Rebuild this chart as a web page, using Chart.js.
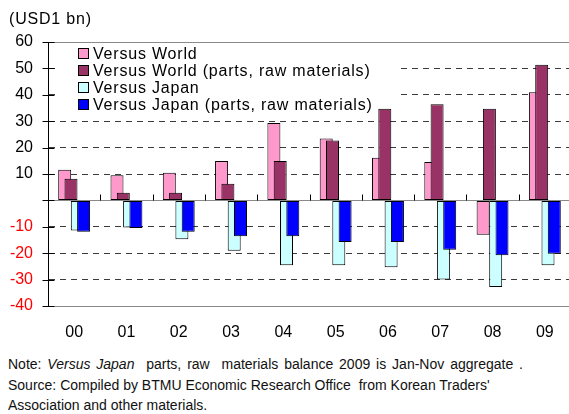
<!DOCTYPE html>
<html>
<head>
<meta charset="utf-8">
<script src="https://cdn.jsdelivr.net/npm/chart.js@4"></script>
<style>
    body { margin: 0; background: #fff; font-family: Arial, "Liberation Sans", sans-serif; }
    #wrap { position: relative; width: 569px; height: 414px; overflow: hidden; }
    #chart-box { position: absolute; left: 0; top: 0; width: 571px; height: 346px; }
    #unit { position: absolute; left: 9px; top: 10px; font-size: 16px; letter-spacing: 0.8px; color: #000; }
    #legend { position: absolute; left: 55px; top: 43px; width: 346px; height: 65px; background: #fff; }
    .legend-row { position: absolute; left: 23px; height: 17px; font-size: 16px; letter-spacing: 0.8px; line-height: 17px; white-space: nowrap; }
    .legend-row span.box { display: inline-block; width: 9px; height: 9px; border: 1px solid #000; margin-right: 4px; vertical-align: 0px; }
    #note { position: absolute; left: 8px; top: 354px; font-size: 14px; line-height: 20.5px; color: #111; white-space: nowrap; }
    #note .wide { word-spacing: 2px; }
</style>
</head>
<body>
<div id="wrap">
    <div id="chart-box"><canvas id="myChart"></canvas></div>
    <div id="unit">(USD1 bn)</div>
    <div id="legend"></div>
    <div id="note">
        <span class="wide">Note: <i>Versus Japan</i>&nbsp; parts, raw&nbsp; materials balance 2009 is Jan-Nov aggregate .</span><br>
        Source: Compiled by BTMU Economic Research Office&nbsp; from Korean Traders'<br>
        Association and other materials.
    </div>
</div>
<script>
const years = ['00', '01', '02', '03', '04', '05', '06', '07', '08', '09'];
const seriesNames = [
    'Versus World',
    'Versus World (parts, raw materials)',
    'Versus Japan',
    'Versus Japan (parts, raw materials)'
];
const versusWorld = [11.6, 9.5, 10.5, 14.9, 29.3, 23.4, 16.2, 14.5, -13.0, 41.0];
const versusWorldParts = [8.2, 2.9, 2.9, 6.3, 14.9, 22.7, 34.7, 36.4, 34.7, 51.4];
const versusJapan = [-11.4, -10.3, -14.7, -19.1, -24.6, -24.6, -25.3, -30.0, -32.8, -24.6];
const versusJapanParts = [-11.9, -10.5, -11.9, -13.6, -13.6, -15.8, -15.8, -18.7, -20.8, -20.2];
const yTicks = [60, 50, 40, 30, 20, 10, 0, -10, -20, -30, -40];

const seriesColors = ['#FF99CC', '#993366', '#CCFFFF', '#0000FF'];

// draw datasets first-to-last so each later bar sits on top of the one before it
const drawInOrder = {
    id: 'drawInOrder',
    beforeDatasetsDraw(chart) {
        for (let i = 0; i < chart.data.datasets.length; i++) {
            chart.getDatasetMeta(i).controller.draw();
        }
        return false;
    }
};

// tick marks crossing the value axis, and small marks on the zero line between years
const axisMarks = {
    id: 'axisMarks',
    afterDraw(chart) {
        const ctx = chart.ctx;
        const x = chart.scales.x;
        const y = chart.scales.y;
        const axisX = Math.round(chart.chartArea.left) + 0.5;
        ctx.save();
        ctx.strokeStyle = '#000';
        ctx.lineWidth = 1;
        ctx.beginPath();
        for (const v of yTicks) {
            const py = Math.round(y.getPixelForValue(v)) + 0.5;
            ctx.moveTo(axisX - 6, py);
            ctx.lineTo(axisX + 6, py);
        }
        const zero = Math.round(y.getPixelForValue(0)) + 0.5;
        for (let i = 0; i < years.length; i++) {
            const px = Math.round(x.getPixelForValue(i) + (x.getPixelForValue(1) - x.getPixelForValue(0)) / 2) + 0.5;
            ctx.moveTo(px, zero);
            ctx.lineTo(px, zero - 6);
        }
        ctx.stroke();
        ctx.restore();
    }
};

function isFrame(value) {
    return value === 60 || value === -40 || value === 0;
}

const myChart = new Chart(document.getElementById('myChart'), {
    type: 'bar',
    data: {
        labels: years,
        datasets: [versusWorld, versusWorldParts, versusJapan, versusJapanParts].map((values, i) => ({
            label: seriesNames[i],
            data: values,
            backgroundColor: seriesColors[i],
            borderColor: '#000',
            borderWidth: 1,
            borderSkipped: false
        }))
    },
    options: {
        responsive: true,
        maintainAspectRatio: false,
        animation: false,
        categoryPercentage: 0.482,
        barPercentage: 2.06,
        layout: { padding: { top: 42, left: 0, right: 0, bottom: 0 } },
        plugins: {
            legend: { display: false },
            tooltip: { enabled: false }
        },
        scales: {
            x: {
                grid: { display: false },
                border: { display: false },
                ticks: {
                    color: '#000',
                    padding: 9,
                    font: { family: 'Arial', size: 16 }
                },
                afterFit: (scale) => { scale.height = 40; }
            },
            y: {
                min: -40,
                max: 60,
                afterBuildTicks: (scale) => { scale.ticks = yTicks.map(v => ({ value: v })); },
                afterFit: (scale) => { scale.width = 48; },
                ticks: {
                    padding: 15,
                    font: { family: 'Arial', size: 16 },
                    color: (ctx) => ctx.tick && ctx.tick.value < 0 ? '#FF0000' : '#000',
                    callback: (value) => value === 0 ? '' : value
                },
                grid: {
                    drawTicks: false,
                    lineWidth: 1,
                    color: (ctx) => ctx.tick && isFrame(ctx.tick.value) ? '#8a8a8a' : '#3a3a3a'
                },
                border: {
                    color: '#000',
                    dash: (ctx) => ctx.tick && isFrame(ctx.tick.value) ? [] : [6, 5]
                }
            }
        }
    },
    plugins: [drawInOrder, axisMarks]
});

// legend rows built from the datasets
const legend = document.getElementById('legend');
myChart.data.datasets.forEach((ds, i) => {
    const row = document.createElement('div');
    row.className = 'legend-row';
    row.style.top = (2 + i * 17) + 'px';
    row.innerHTML = `<span class="box" style="background:${ds.backgroundColor}"></span>${ds.label}`;
    legend.appendChild(row);
});
</script>
</body>
</html>
